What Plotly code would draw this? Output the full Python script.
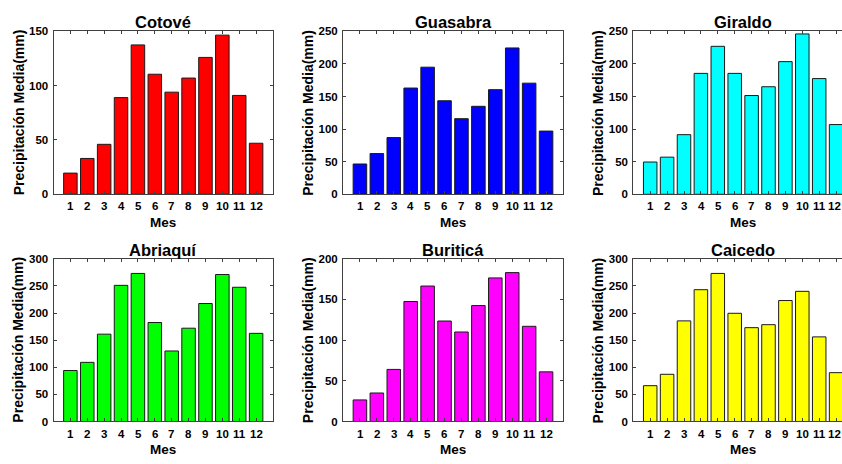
import plotly.graph_objects as go

# ---- data ----
meses = list(range(1, 13))
mes_labels = [str(m) for m in meses]

cotove = [19.5, 33, 46, 89, 137.5, 110.5, 94, 107, 126, 146.5, 91, 47]
guasabra = [46.5, 62.5, 87, 163, 195, 143.5, 116, 135, 160.5, 224.5, 170.5, 97]
giraldo = [49.5, 57, 91.5, 185.5, 227, 185.5, 151.5, 165, 203.5, 246, 177.5, 107]
abriaqui = [94, 109, 161, 251, 273, 182.5, 130, 172, 217.5, 271, 247.5, 162.5]
buritica = [26.5, 35, 64, 147.5, 166.5, 123.5, 110, 142.5, 176.5, 183, 117, 61]
caicedo = [66, 87, 185.5, 243, 273, 199.5, 173, 178.5, 223, 240, 156, 90]

titles = ["Cotové", "Guasabra", "Giraldo", "Abriaquí", "Buriticá", "Caicedo"]
series = [cotove, guasabra, giraldo, abriaqui, buritica, caicedo]
colors = ["#FF0000", "#0000FF", "#00FFFF", "#00FF00", "#FF00FF", "#FFFF00"]
ymax = [150, 250, 250, 300, 200, 300]
ylabel = "Precipitación Media(mm)"
xlabel = "Mes"

# ---- layout geometry (pixels) ----
W, H = 842, 464
col_px = [(53.5, 273.0), (343.0, 563.0), (633.3, 853.0)]   # 3rd column is cut by the edge
row_px = [(26.0, 193.3), (259.5, 426.5)]
XMAX = 13.0
FONT = "Liberation Sans, Arial, sans-serif"
AXC = "#404040"
TICK_FS = 11.5
DIGIT_W = 0.556 * TICK_FS   # digit advance width of Liberation Sans Bold

fig = go.Figure()
layout = dict(
    width=W, height=H,
    margin=dict(l=0, r=0, t=0, b=0),
    paper_bgcolor="white", plot_bgcolor="white",
    showlegend=False,
    font=dict(family=FONT, color="black"),
    annotations=[],
)

for i in range(6):
    r, c = divmod(i, 3)
    n = "" if i == 0 else str(i + 1)
    x0, x1 = col_px[c]
    top, bot = row_px[r]
    clipped = x1 > W
    xr = [0, XMAX]
    xdom1 = x1 / W
    if clipped:
        xr = [0, XMAX * (W - x0) / (x1 - x0)]
        xdom1 = 1.0
    fig.add_trace(go.Bar(
        x=meses, y=series[i], width=0.8,
        marker=dict(color=colors[i], line=dict(color="#1a1a1a", width=1)),
        xaxis="x" + n, yaxis="y" + n, hoverinfo="skip",
    ))
    layout["xaxis" + n] = dict(
        domain=[x0 / W, xdom1], range=xr, anchor="y" + n,
        tickmode="array", tickvals=meses, showticklabels=False,
        ticks="inside", ticklen=3, tickcolor=AXC, tickwidth=1,
        showline=True, linecolor=AXC, linewidth=1, mirror="ticks",
        showgrid=False, zeroline=False, fixedrange=True,
    )
    layout["yaxis" + n] = dict(
        domain=[1 - bot / H, 1 - top / H], range=[0, ymax[i]], anchor="x" + n,
        dtick=50, tick0=0,
        ticks="inside", ticklen=3, tickcolor=AXC, tickwidth=1,
        showline=True, linecolor=AXC, linewidth=1,
        mirror=("ticks" if not clipped else False),
        showgrid=False, zeroline=False, fixedrange=True,
        tickfont=dict(family=FONT, size=TICK_FS, color="black", weight="bold"),
        ticklabelstandoff=2,
    )
    # month tick labels, placed at the axis' own data positions (centred on the tick)
    for k, (m, lab) in enumerate(zip(meses, mes_labels)):
        shift = -len(lab) * DIGIT_W / 2
        if clipped and k == len(meses) - 1:
            shift -= 1.5   # keep the last label inside the window edge
        layout["annotations"].append(dict(
            text=lab, xref="x" + n, yref="paper",
            x=m, y=1 - (bot + 12.5) / H,
            xanchor="left", yanchor="middle", xshift=shift,
            borderpad=0, borderwidth=0,
            showarrow=False, font=dict(family=FONT, size=TICK_FS, color="black", weight="bold"),
        ))
    cx = (x0 + x1) / 2
    layout["annotations"].append(dict(
        text=titles[i], xref="paper", yref="paper",
        x=cx / W, y=1 - (top - 9.5) / H,
        xanchor="center", yanchor="middle",
        showarrow=False, font=dict(family=FONT, size=16.5, color="black", weight="bold"),
    ))
    layout["annotations"].append(dict(
        text=xlabel, xref="paper", yref="paper",
        x=cx / W, y=1 - (bot + 28.5) / H, xanchor="center", yanchor="middle",
        showarrow=False, font=dict(family=FONT, size=13.5, color="black", weight="bold"),
    ))
    layout["annotations"].append(dict(
        text=ylabel, xref="paper", yref="paper", textangle=-90,
        x=(x0 - 35) / W, y=1 - ((top + bot) / 2) / H, xanchor="center", yanchor="middle",
        showarrow=False, font=dict(family=FONT, size=14, color="black", weight="bold"),
    ))

fig.update_layout(**layout)
fig.write_html("out.html", config={"displayModeBar": False})
